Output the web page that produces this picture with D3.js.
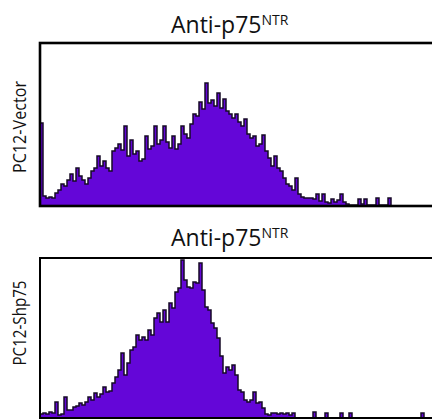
<!DOCTYPE html>
<html><head><meta charset="utf-8">
<script src="https://cdn.jsdelivr.net/npm/d3@7"></script>
<style>html,body{margin:0;padding:0;background:#fff;}svg{display:block;}</style>
</head><body>
<svg id="c" width="432" height="420"></svg>
<script>
// Panel titles and labels
const titleMain = "Anti-p75";
const titleSup = "NTR";
const rowLabels = ["PC12-Vector", "PC12-Shp75"];
// Histogram counts per channel bin (arbitrary units)
const vectorCounts = [83,10,8,9,8,13,16,22,20,26,32,25,38,30,26,22,28,35,38,50,40,45,38,35,55,58,62,56,80,50,66,52,55,45,47,70,57,60,80,62,66,80,64,58,70,57,62,80,72,68,82,92,90,104,97,123,103,106,100,113,98,107,95,92,88,92,84,80,87,72,68,70,60,62,71,55,48,40,50,38,35,28,22,20,16,28,12,9,8,8,8,7,12,5,12,4,3,7,4,6,12,4,2,1,1,1,7,2,7,1,1,1,8,1,1,1,8,0,0,0,0,0,0,0,0,0,0,0,0,0,0];
const shp75Counts = [4,5,4,6,5,16,3,4,21,8,8,11,12,15,13,16,21,18,25,21,24,31,26,27,35,41,48,65,43,55,68,71,83,78,81,78,88,83,100,105,96,108,96,115,110,126,130,158,138,131,130,136,135,155,128,111,108,95,90,80,62,45,51,48,53,43,28,26,18,16,18,26,15,16,10,4,3,5,5,4,5,4,5,3,5,0,0,0,0,0,0,6,0,0,0,5,0,0,0,0,5,0,0,5,0,0,0,0,0,0,0,0,0,0,0,0,0,0,0,0,0,0,0,0,0,0,0,5,0,0,0];
const nBins = 131;

const svg = d3.select("#c");
const x = d3.scaleLinear().domain([0, nBins]).range([40, 433]);

const panels = [
  {counts: vectorCounts, label: rowLabels[0], top: 44, bottom: 206, ymax: 162, titleY: 32.5, labelY: 127, labelLen: 92, frameW: 2.6},
  {counts: shp75Counts, label: rowLabels[1], top: 259, bottom: 418, ymax: 159, titleY: 246, labelY: 323, labelLen: 85, frameW: 2}
];

panels.forEach(p => {
  const y = d3.scaleLinear().domain([0, p.ymax]).range([p.bottom, p.top]);
  const pts = p.counts.map((v, i) => ({i, v}));
  pts.push({i: p.counts.length, v: p.counts[p.counts.length - 1]});
  const area = d3.area().curve(d3.curveStepAfter).x(d => x(d.i)).y0(y(0)).y1(d => y(d.v));
  const line = d3.line().curve(d3.curveStepAfter).x(d => x(d.i)).y(d => y(d.v));
  svg.append("path").datum(pts).attr("d", area).attr("fill", "#6406d8");
  svg.append("path").datum(pts).attr("d", line).attr("fill", "none")
    .attr("stroke", "#160a26").attr("stroke-width", 1.5).attr("stroke-linejoin", "miter");
  // frame
  svg.append("rect").attr("x", 40).attr("y", p.top - 1).attr("width", 420).attr("height", p.bottom - p.top + 1)
    .attr("fill", "none").attr("stroke", "#000").attr("stroke-width", p.frameW);
  // title
  const t = svg.append("text").attr("x", 171).attr("y", p.titleY)
    .attr("font-family", "Open Sans").attr("font-size", 23).attr("fill", "#111");
  t.append("tspan").text(titleMain);
  t.append("tspan").attr("font-size", 14).attr("dy", -8).text(titleSup);
  // row label
  svg.append("text").attr("transform", `translate(26,${p.labelY}) rotate(-90)`)
    .attr("text-anchor", "middle").attr("font-family", "Open Sans").attr("font-size", 18)
    .attr("textLength", p.labelLen).attr("lengthAdjust", "spacingAndGlyphs")
    .attr("fill", "#111").text(p.label);
});
</script>
</body></html>
